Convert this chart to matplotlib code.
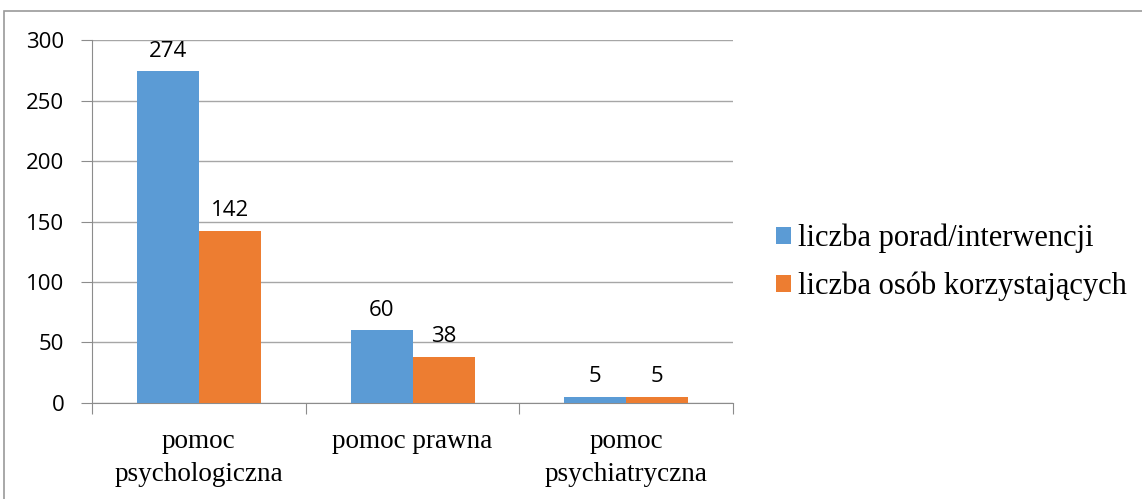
import matplotlib.pyplot as plt
import matplotlib.patches as mpatches
import numpy as np

categories = ["pomoc\npsychologiczna", "pomoc prawna", "pomoc\npsychiatryczna"]
series_names = ["liczba porad/interwencji", "liczba osób korzystających"]
porady = [274, 60, 5]
osoby = [142, 38, 5]
colors = ["#5B9BD5", "#ED7D31"]

fig = plt.figure(figsize=(11.42, 4.99), dpi=100)
ax = fig.add_axes([0.0806, 0.1924, 0.5613, 0.7274])

# outer chart frame (cut off on the right and bottom)
fig.patches.append(mpatches.Rectangle((4 / 1142, -0.2), 2, 1.2 - 11 / 499,
                                      transform=fig.transFigure, fill=False,
                                      edgecolor="#9a9a9a", linewidth=1.2))

x = np.arange(len(categories))
w = 0.29
b1 = ax.bar(x - w / 2, porady, w, color=colors[0], label=series_names[0], zorder=3)
b2 = ax.bar(x + w / 2, osoby, w, color=colors[1], label=series_names[1], zorder=3)
for bars in (b1, b2):
    ax.bar_label(bars, padding=7, fontsize=16, family="Open Sans")

ax.set_xlim(-0.5, 2.5)
ax.set_ylim(0, 300)
ax.set_yticks(range(0, 301, 50))
ax.yaxis.grid(True, color="#a6a6a6", linewidth=1, zorder=0)
ax.set_xticks([-0.5, 0.5, 1.5, 2.5])
ax.set_xticklabels([])
ax.set_xticks(x, minor=True)
ax.set_xticklabels(categories, minor=True, fontsize=19.5, family="Liberation Serif",
                   linespacing=1.38)
ax.tick_params(axis="x", which="minor", length=0, pad=19)
ax.tick_params(axis="x", which="major", length=8, color="#8c8c8c")
ax.tick_params(axis="y", length=8, color="#8c8c8c", labelsize=16, pad=12)
for lab in ax.get_yticklabels():
    lab.set_family("Open Sans")

for s in ["top", "right"]:
    ax.spines[s].set_visible(False)
ax.spines["left"].set_color("#8c8c8c")
ax.spines["bottom"].set_color("#8c8c8c")

fig.legend(loc="center left", bbox_to_anchor=(0.655, 0.474), frameon=False,
           prop={"family": "Liberation Serif", "size": 22},
           handlelength=0.5, handleheight=0.5, handletextpad=0.25, labelspacing=0.6)

fig.savefig("out.png", dpi=100)
